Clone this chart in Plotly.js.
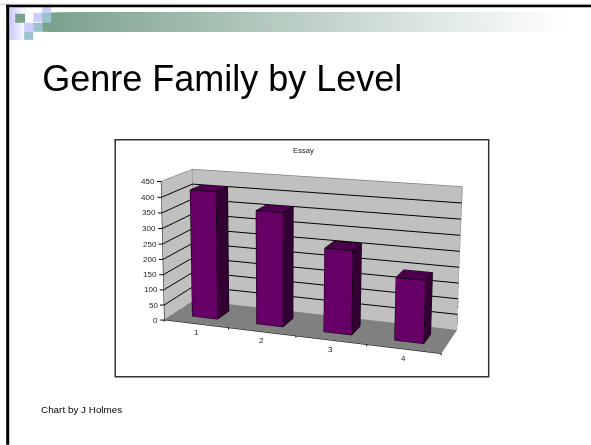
<!DOCTYPE html>
<html><head><meta charset="utf-8">
<script src="https://cdn.plot.ly/plotly-3.0.1.min.js"></script>
<style>html,body{margin:0;padding:0;background:#fff;overflow:hidden;width:591px;height:445px}#w{position:absolute;left:0;top:0;width:591px;height:445px;overflow:hidden}#c{position:absolute}</style>
</head><body><div id="w"><div id="c"></div></div>
<script>
const categories=['1','2','3','4'];
const values=[415,365,265,195];
const zTicks=[0,50,100,150,200,250,300,350,400,450];
const gridTicks=[50,100,150,200,250,300,350,400];
const slotEdges=[.5,1.5,2.5,3.5,4.5];

const W=1400,H=909,cx=236.8,cy=214.7;
const dx=W/2-cx,dy=H/2-cy;
const el=document.getElementById('c');el.style.left=(-dx)+'px';el.style.top=(-dy)+'px';
const px=x=>(x+dx)/W,py=y=>1-(y+dy)/H;

const xs=[],ys=[],zs=[];const traces=[];
categories.forEach((c,n)=>{const x0=n+1-.2,x1=n+1+.2,y0=.3,y1=.7,h=values[n];
 traces.push({type:'mesh3d',x:[x0,x1,x1,x0,x0,x1,x1,x0],y:[y0,y0,y1,y1,y0,y0,y1,y1],z:[0,0,0,0,h,h,h,h],
  i:[0,0,1,1,4,4,3,3,2,2,0,0],j:[1,5,2,6,5,6,7,4,3,7,3,7],k:[5,4,6,5,6,7,4,0,7,6,2,4],
  facecolor:['#660066','#660066','#330033','#330033','#4d004d','#4d004d','#330033','#330033','#330033','#330033','#330033','#330033'],
  flatshading:true,lighting:{ambient:1,diffuse:0,specular:0,roughness:1,fresnel:0},hoverinfo:'skip',showscale:false});
 const E=[[0,1],[1,2],[2,3],[3,0],[4,5],[5,6],[6,7],[7,4],[0,4],[1,5],[2,6],[3,7]],X=[x0,x1,x1,x0,x0,x1,x1,x0],Y=[y0,y0,y1,y1,y0,y0,y1,y1],Z=[0,0,0,0,h,h,h,h];
 E.forEach(e=>{xs.push(X[e[0]],X[e[1]],null);ys.push(Y[e[0]],Y[e[1]],null);zs.push(Z[e[0]],Z[e[1]],null);});
});
traces.push({type:'scatter3d',mode:'lines',x:xs,y:ys,z:zs,line:{color:'#000',width:1.5},hoverinfo:'skip',showlegend:false});
traces.push({type:'scatter3d',mode:'lines',x:[.5,.5,4.5,4.5,null,.5,.5],y:[0,1,1,1,null,1,1],z:[450,450,450,0,null,450,0],line:{color:'#808080',width:1.5},hoverinfo:'skip',showlegend:false});
traces.push({type:'scatter3d',mode:'lines',x:[4.5,4.5],y:[0,1],z:[0,0],line:{color:'#222',width:1.2},hoverinfo:'skip',showlegend:false});
traces.push({type:'scatter3d',mode:'lines',x:[.5,.5],y:[0,1],z:[0,0],line:{color:'#000',width:1.2,dash:'dot'},hoverinfo:'skip',showlegend:false});

const shapes=[];const rect=(x0,y0,x1,y1,fill,line)=>shapes.push({type:'rect',xref:'paper',yref:'paper',x0:px(x0),x1:px(x1),y0:py(y0),y1:py(y1),fillcolor:fill,line:line||{width:0},layer:'below'});
const mix=(t)=>{const a=[122,160,142];return 'rgb('+a.map(v=>Math.round(v+(255-v)*t)).join(',')+')'};
for(let x=42;x<560;x+=4)rect(x,13,564,32,mix((x-42)/518));
for(let x=9;x<25;x+=2){const g=Math.round(204+51*(x-9)/16);rect(x,8,25,40,'rgb('+g+','+g+',255)');}
rect(15,14,25,23,'#7aa08e');rect(25,13,42,23,'#fff');rect(33,13,42,22,'#ccccff');rect(42,7,51,13,'#ccccff');rect(42,13,51,23,'#99c2cc');
rect(24,23,33,32,'#ccccff');rect(33,23,42,32,'#99c2cc');rect(24,32,33,40,'#99c2cc');
rect(0,4,591,5,'#c8c8c8');rect(6,5,591,7.5,'#000');rect(6,5,9,445,'#000');
rect(115,140,488.5,377,'#fff',{color:'#333',width:1.5});

const tf={size:8,color:'#222',family:'Liberation Sans'};
const tick={showarrow:true,arrowhead:0,arrowwidth:1,arrowcolor:'#000',standoff:0};
const ann=[];
zTicks.forEach(v=>ann.push(Object.assign({x:.5,y:0,z:v,text:String(v),xanchor:'right',yanchor:'middle',font:tf,ax:-4,ay:0},tick)));
categories.forEach((c,n)=>ann.push({x:n+1,y:0,z:0,text:c,showarrow:false,xanchor:'center',yanchor:'middle',yshift:-9,font:tf}));
slotEdges.forEach(v=>ann.push(Object.assign({x:v,y:0,z:0,text:'',ax:0,ay:3},tick)));

const ax={showspikes:false,title:{text:''},zeroline:false,showticklabels:false,showbackground:true,autorange:false};
const layout={width:W,height:H,margin:{l:0,r:0,t:0,b:0},paper_bgcolor:'#fff',showlegend:false,shapes,
 title:{text:'Genre Family by Level',x:px(42),xanchor:'left',xref:'paper',y:py(79),yanchor:'middle',yref:'paper',font:{family:'Liberation Sans',size:36,color:'#000'}},
 annotations:[{xref:'paper',yref:'paper',x:px(303),y:py(151),yanchor:'middle',text:'Essay',showarrow:false,font:{size:7.7,color:'#222',family:'Liberation Sans'}},
  {xref:'paper',yref:'paper',x:px(39),xanchor:'left',y:py(410),yanchor:'middle',text:'Chart by J Holmes',showarrow:false,font:{size:9.9,color:'#000',family:'Liberation Sans'}}],
 scene:{domain:{x:[0,1],y:[0,1]},aspectmode:'manual',aspectratio:{x:1,y:.2614,z:.5063},bgcolor:'rgba(0,0,0,0)',
  camera:{eye:{x:1.1751,y:-3.5167,z:.9627},center:{x:-.2412,y:-.0653,z:.1413},up:{x:.36,y:-.8606,z:1},projection:{type:'perspective'}},
  xaxis:Object.assign({},ax,{range:[.5,4.5],tickmode:'array',tickvals:[],ticks:'',showgrid:false,showline:true,linecolor:'#000',backgroundcolor:'#c0c0c0'}),
  yaxis:Object.assign({},ax,{range:[0,1],tickmode:'array',tickvals:[],ticks:'',showgrid:false,showline:false,backgroundcolor:'#c0c0c0'}),
  zaxis:Object.assign({},ax,{range:[0,450],tickmode:'array',tickvals:gridTicks,ticks:'',showgrid:true,gridcolor:'#000',gridwidth:2,showline:true,linecolor:'#000',backgroundcolor:'#808080'}),
  annotations:ann}};
Plotly.newPlot('c',traces,layout,{displayModeBar:false});
</script></body></html>
